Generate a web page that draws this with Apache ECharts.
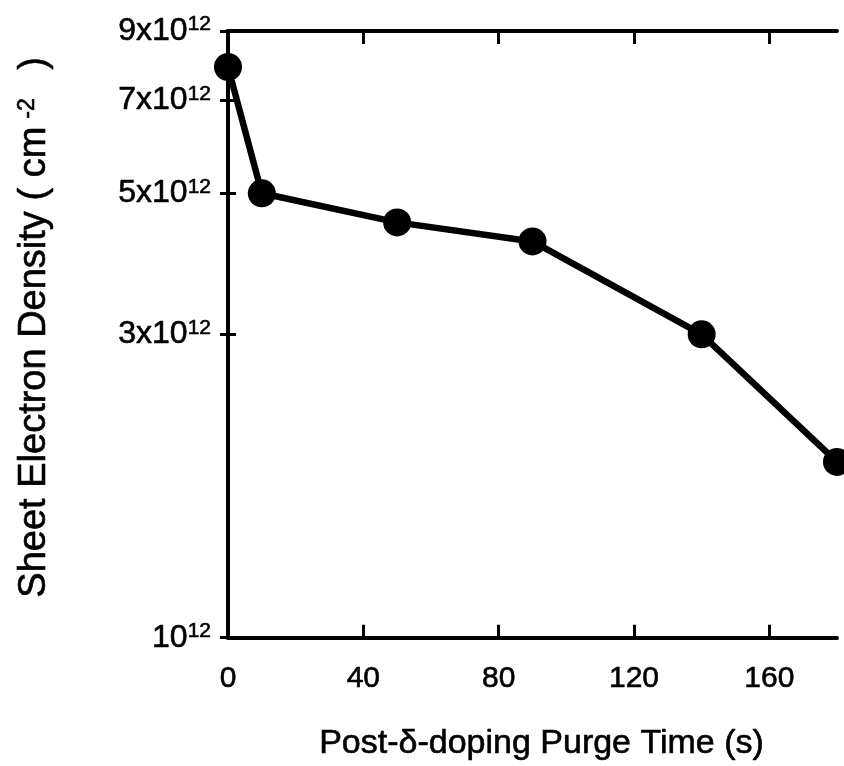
<!DOCTYPE html>
<html>
<head>
<meta charset="utf-8">
<script src="https://cdn.jsdelivr.net/npm/echarts@6/dist/echarts.min.js"></script>
<style>
  html, body { margin: 0; padding: 0; background: #fff; }
  #chart { width: 844px; height: 766px; }
</style>
</head>
<body>
<div id="chart"></div>
<script>
// purge time (s) and sheet electron density (cm^-2)
const purgeTime = [0, 10, 50, 90, 140, 180]
const density = [7.9e12, 5.0e12, 4.5e12, 4.2e12, 3.0e12, 1.89e12]
const xTicks = [0, 40, 80, 120, 160]
const yTicks = [1e12, 3e12, 5e12, 7e12, 9e12]

const FONT = "'Liberation Sans', Arial, sans-serif"
const lg = v => Math.log10(v)
const yTickPos = yTicks.map(lg)
// slight outline so the text looks as heavy as the scanned original
const ink = { color: '#000', fontFamily: FONT, textBorderColor: '#000', textBorderWidth: 0.6 }

function yLabel(v) {
  const m = Math.round(Math.pow(10, v - 12))
  return m === 1 ? '{b|10}{s|12}' : '{b|' + m + 'x10}{s|12}'
}

const lineAxis = { show: true, lineStyle: { color: '#000', width: 4 } }

const myChart = echarts.init(document.getElementById('chart'))
const options = {
  animation: false,
  backgroundColor: '#fff',
  grid: { left: 228, right: 7, top: 31, bottom: 128 },
  xAxis: [
    {
      type: 'value',
      min: 0,
      max: 180,
      interval: 40,
      name: 'Post-δ-doping Purge Time (s)',
      nameLocation: 'middle',
      nameGap: 89,
      nameTextStyle: { ...ink, fontSize: 34, padding: [0, 0, 0, 18] },
      axisLine: lineAxis,
      axisTick: { inside: true, length: 13, lineStyle: { width: 3, color: '#000' }, customValues: xTicks },
      axisLabel: { ...ink, fontSize: 30, margin: 26, customValues: xTicks },
      splitLine: { show: false }
    },
    {
      type: 'value',
      position: 'top',
      min: 0,
      max: 180,
      interval: 40,
      axisLine: lineAxis,
      axisTick: { inside: true, length: 13, lineStyle: { width: 3, color: '#000' }, customValues: xTicks },
      axisLabel: { show: false },
      splitLine: { show: false }
    }
  ],
  yAxis: [
    {
      type: 'value',
      min: 12,
      max: lg(9e12),
      name: 'Sheet Electron Density ( cm{s|-2} )',
      nameLocation: 'middle',
      nameGap: 174,
      nameTextStyle: {
        ...ink, fontSize: 38, padding: [0, 0, 0, 14],
        rich: {
          s: { ...ink, fontSize: 23, verticalAlign: 'top', lineHeight: 23, padding: [0, 18, 0, 8] }
        }
      },
      axisLine: lineAxis,
      axisTick: { inside: true, length: 8, lineStyle: { width: 3, color: '#000' }, customValues: yTickPos },
      axisLabel: {
        margin: 17,
        customValues: yTickPos,
        formatter: yLabel,
        rich: {
          b: { ...ink, fontSize: 32, lineHeight: 34 },
          s: { ...ink, fontSize: 21, verticalAlign: 'top', lineHeight: 21 }
        }
      },
      splitLine: { show: false }
    },
    {
      type: 'value',
      position: 'right',
      min: 12,
      max: lg(9e12),
      axisLine: lineAxis,
      axisTick: { inside: true, length: 8, lineStyle: { width: 3, color: '#000' }, customValues: yTickPos },
      axisLabel: { show: false },
      splitLine: { show: false }
    }
  ],
  series: [
    {
      type: 'line',
      xAxisIndex: 0,
      yAxisIndex: 0,
      data: purgeTime.map((t, i) => [t, lg(density[i])]),
      symbol: 'circle',
      symbolSize: 28,
      clip: false,
      lineStyle: { color: '#000', width: 6.5 },
      itemStyle: { color: '#000' }
    }
  ]
}
myChart.setOption(options)
</script>
</body>
</html>
